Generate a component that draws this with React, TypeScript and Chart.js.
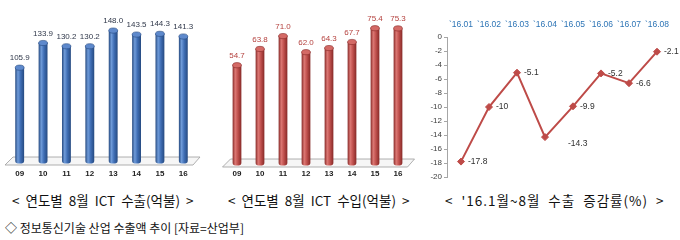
import React, { useEffect, useRef } from "react";
import { Chart, registerables } from "chart.js";

Chart.register(...registerables);

// ---- data ----
const yearLabels = ["09", "10", "11", "12", "13", "14", "15", "16"];
const exportValues = [105.9, 133.9, 130.2, 130.2, 148.0, 143.5, 144.3, 141.3];
const importValues = [54.7, 63.8, 71.0, 62.0, 64.3, 67.7, 75.4, 75.3];
const monthLabels = ["`16.01", "`16.02", "`16.03", "`16.04", "`16.05", "`16.06", "`16.07", "`16.08"];
const growthValues = [-17.8, -10, -5.1, -14.3, -9.9, -5.2, -6.6, -2.1];

const captionExport = "< 연도별 8월 ICT 수출(억불) >";
const captionImport = "< 연도별 8월 ICT 수입(억불) >";
const captionGrowth = "< '16.1월~8월 수출 증감률(%) >";
const footerText = "◇ 정보통신기술 산업 수출액 추이 [자료=산업부]";

const NARROW = "'Liberation Sans Narrow', 'Liberation Sans', Arial, sans-serif";
const KR = "'Noto Sans CJK KR', 'Noto Sans', sans-serif";

type CylStyle = { main: string; light: string; dark: string; top: string; label: string };

const blueStyle: CylStyle = { main: "#3F6EB5", light: "#6F9BD9", dark: "#264A80", top: "#5E89CC", label: "#30384A" };
const redStyle: CylStyle = { main: "#C0504D", light: "#DC7874", dark: "#862927", top: "#D46A66", label: "#B4403D" };

function makeCylinderPlugin(s: CylStyle) {
  return {
    id: "cylinder",
    beforeDatasetsDraw(chart: any) {
      const { ctx, chartArea } = chart;
      const base = chart.scales.y.getPixelForValue(0);
      ctx.save();
      ctx.beginPath();
      ctx.moveTo(chartArea.left - 3, base + 4);
      ctx.lineTo(chartArea.left + 5, base - 4);
      ctx.lineTo(chartArea.right + 5, base - 4);
      ctx.lineTo(chartArea.right - 2, base + 4);
      ctx.closePath();
      ctx.fillStyle = "#F6F6F6";
      ctx.fill();
      ctx.strokeStyle = "#9C9C9C";
      ctx.lineWidth = 0.8;
      ctx.stroke();
      ctx.restore();
    },
    afterDatasetsDraw(chart: any) {
      const ctx = chart.ctx;
      const meta = chart.getDatasetMeta(0);
      const values = chart.data.datasets[0].data as number[];
      meta.data.forEach((el: any, i: number) => {
        const p = el.getProps(["x", "y", "base", "width"], true);
        const hw = p.width / 2;
        const ry = 2.6;
        const grad = ctx.createLinearGradient(p.x - hw, 0, p.x + hw, 0);
        grad.addColorStop(0, s.dark);
        grad.addColorStop(0.3, s.light);
        grad.addColorStop(0.6, s.main);
        grad.addColorStop(1, s.dark);
        ctx.save();
        ctx.fillStyle = grad;
        ctx.beginPath();
        ctx.moveTo(p.x - hw, p.y);
        ctx.lineTo(p.x - hw, p.base);
        ctx.ellipse(p.x, p.base, hw, ry, 0, Math.PI, 0, true);
        ctx.lineTo(p.x + hw, p.y);
        ctx.closePath();
        ctx.fill();
        ctx.beginPath();
        ctx.ellipse(p.x, p.y, hw, ry, 0, 0, Math.PI * 2);
        ctx.fillStyle = s.top;
        ctx.fill();
        ctx.strokeStyle = s.dark;
        ctx.lineWidth = 0.6;
        ctx.stroke();
        ctx.font = `8px ${NARROW}`;
        ctx.fillStyle = s.label;
        ctx.textAlign = "center";
        ctx.textBaseline = "bottom";
        ctx.fillText(values[i].toFixed(1), p.x, p.y - ry - 3);
        ctx.restore();
      });
    },
  };
}

const pointLabelPlugin = {
  id: "pointLabels",
  afterDatasetsDraw(chart: any) {
    const ctx = chart.ctx;
    const meta = chart.getDatasetMeta(0);
    const vals = chart.data.datasets[0].data as number[];
    ctx.save();
    ctx.font = `8.5px ${NARROW}`;
    ctx.fillStyle = "#303030";
    ctx.textAlign = "left";
    ctx.textBaseline = "middle";
    meta.data.forEach((pt: any, i: number) => {
      const v = vals[i];
      const deepDip =
        i > 0 && i < vals.length - 1 && vals[i - 1] - v > 2 && vals[i + 1] - v > 2;
      const dx = deepDip ? 23 : 7;
      const dy = deepDip ? 7 : 0;
      ctx.fillText(String(v), pt.x + dx, pt.y + dy);
    });
    ctx.restore();
  },
};

function barConfig(
  labels: string[],
  values: number[],
  yMax: number,
  style: CylStyle,
  padLeft: number,
  padRight: number,
  axisH: number,
  tickPad: number
): any {
  return {
    type: "bar",
    data: {
      labels,
      datasets: [
        {
          data: values,
          backgroundColor: "rgba(0,0,0,0)",
          borderWidth: 0,
          barPercentage: 0.38,
          categoryPercentage: 1,
        },
      ],
    },
    options: {
      responsive: false,
      animation: false,
      layout: { padding: { left: padLeft, right: padRight, top: 20, bottom: 0 } },
      plugins: { legend: { display: false }, tooltip: { enabled: false } },
      scales: {
        x: {
          grid: { display: false, drawTicks: false },
          border: { display: false },
          ticks: {
            color: "#222",
            font: { family: NARROW, size: 8, weight: "bold" },
            padding: tickPad,
            maxRotation: 0,
            autoSkip: false,
          },
          afterFit: (sc: any) => {
            sc.height = axisH;
          },
        },
        y: { display: false, min: 0, max: yMax },
      },
    },
    plugins: [makeCylinderPlugin(style)],
  };
}

function lineConfig(): any {
  return {
    type: "line",
    data: {
      labels: monthLabels,
      datasets: [
        {
          data: growthValues,
          borderColor: "#BE4B48",
          backgroundColor: "#BE4B48",
          borderWidth: 2,
          pointStyle: "rectRot",
          pointRadius: 3.5,
          pointBorderWidth: 1,
          tension: 0,
        },
      ],
    },
    options: {
      responsive: false,
      animation: false,
      layout: { padding: { left: 0, right: 9, top: 0, bottom: 8 } },
      plugins: { legend: { display: false }, tooltip: { enabled: false } },
      scales: {
        x: {
          position: "top",
          offset: true,
          grid: { display: false, drawTicks: false },
          border: { display: false },
          ticks: {
            color: "#2E75B6",
            font: { family: NARROW, size: 8.5 },
            padding: 7,
            maxRotation: 0,
            autoSkip: false,
          },
          afterFit: (sc: any) => {
            sc.height = 37;
          },
        },
        y: {
          min: -20,
          max: 0,
          ticks: { stepSize: 2, color: "#404040", font: { family: NARROW, size: 8 }, padding: 2 },
          grid: { drawOnChartArea: false, drawTicks: true, tickLength: 3, color: "#A6A6A6" },
          border: { color: "#A6A6A6" },
          afterFit: (sc: any) => {
            sc.width = 17;
          },
        },
      },
    },
    plugins: [pointLabelPlugin],
  };
}

function ChartCanvas(props: { make: () => any; width: number; height: number; left: number; top: number }) {
  const ref = useRef<HTMLCanvasElement>(null);
  useEffect(() => {
    const chart = new Chart(ref.current as HTMLCanvasElement, props.make());
    return () => chart.destroy();
  }, []);
  return (
    <canvas
      ref={ref}
      width={props.width}
      height={props.height}
      style={{ position: "absolute", left: props.left, top: props.top, width: props.width, height: props.height }}
    />
  );
}

const textStyle = (
  left: number,
  top: number,
  size: number,
  wordSpacing: number,
  letterSpacing: number
): React.CSSProperties => ({
  position: "absolute",
  left,
  top,
  fontFamily: KR,
  fontSize: size,
  lineHeight: "16px",
  color: "#111",
  whiteSpace: "nowrap",
  wordSpacing,
  letterSpacing,
});

export default function App() {
  return (
    <div style={{ position: "fixed", left: 0, top: 0, width: 680, height: 240, background: "#fff", overflow: "hidden" }}>
      <ChartCanvas
        make={() => barConfig(yearLabels, exportValues, 160, blueStyle, 8, 20, 24, 8)}
        width={215}
        height={185}
        left={0}
        top={0}
      />
      <ChartCanvas
        make={() => barConfig(yearLabels, importValues, 80, redStyle, 5.5, 25.5, 22, 6)}
        width={215}
        height={185}
        left={220}
        top={0}
      />
      <ChartCanvas make={lineConfig} width={250} height={185} left={430} top={0} />
      <div style={textStyle(12, 192, 13.5, 3, 0)}>{captionExport}</div>
      <div style={textStyle(228, 192, 13.5, 3, 0)}>{captionImport}</div>
      <div style={textStyle(445, 192, 13.5, 4, 1)}>{captionGrowth}</div>
      <div style={textStyle(5, 220, 12, 0, 0)}>{footerText}</div>
    </div>
  );
}
